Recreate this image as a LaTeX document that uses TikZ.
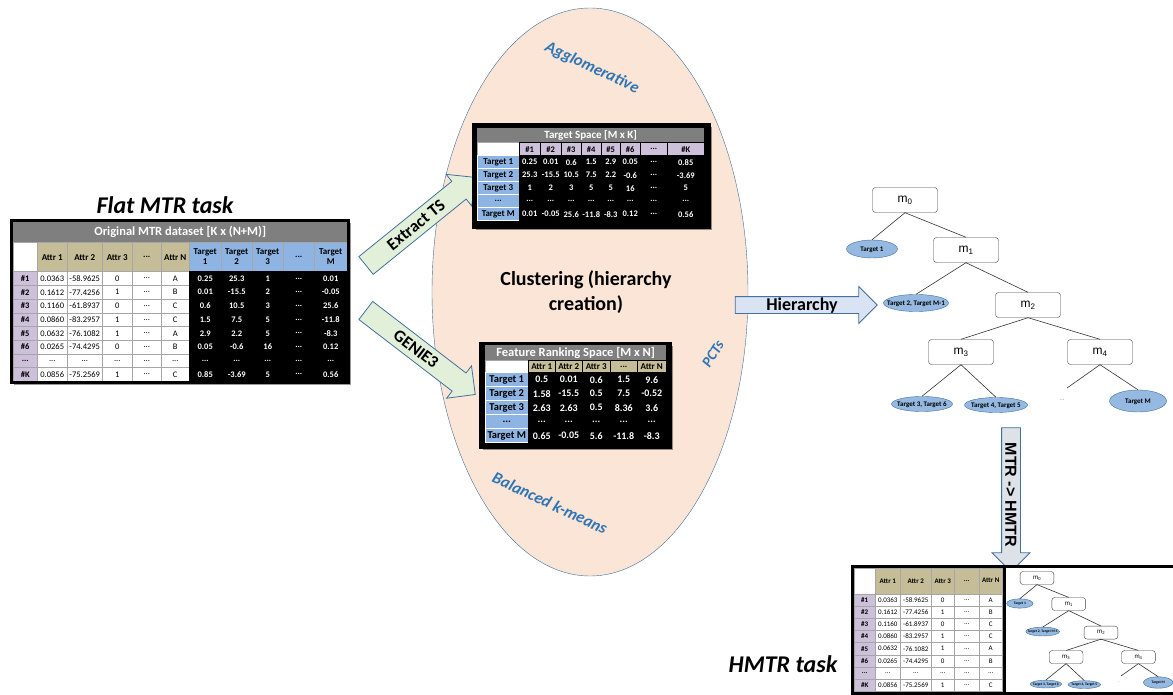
\documentclass[tikz,border=0pt]{standalone}
\usepackage{fontspec}
\setmainfont{Carlito}
\newfontfamily\arialfont{Liberation Sans}
\usepackage{tikz}
\usetikzlibrary{matrix,positioning}
\usetikzlibrary{shapes.geometric,shapes.arrows}
\usetikzlibrary{shadows}
\definecolor{hdrgray}{HTML}{7F7F7F}
\definecolor{attrtan}{HTML}{C4BD97}
\definecolor{rowlav}{HTML}{CCC0DA}
\definecolor{tgtblue}{HTML}{8DB4E2}
\definecolor{gridgray}{HTML}{A6A6A6}
\definecolor{peach}{HTML}{FBE5D6}
\definecolor{arrline}{HTML}{41719C}
\definecolor{algoblue}{HTML}{2E75B6}
\definecolor{arrgreen}{HTML}{E2F0D9}
\definecolor{arrblue}{HTML}{DAE3F3}
\definecolor{arrgray}{HTML}{DDE2E9}
\definecolor{leafblue}{HTML}{95B9E0}
\colorlet{tgttext}{white}
\newcommand\fs[1]{\fontsize{#1}{#1}\selectfont}
\newcommand\mnode[1]{{\arialfont m\textsubscript{#1}}}
\newcommand\lf[1]{\makebox[0pt]{#1}}
\newcommand\tgh[1]{\begin{tabular}{@{}c@{}}Target\\[-1.5pt]#1\end{tabular}}
\tikzset{
  tbl/.style={matrix of nodes,nodes in empty cells,row sep=-.5pt,column sep=-.5pt,
    inner sep=0pt,outer sep=0pt,
    nodes={draw=gridgray,fill=white,inner sep=0pt,outer sep=0pt,anchor=center,line width=.5pt}},
  titlebar/.style={fill=hdrgray,text=white,inner sep=0pt,anchor=north west},
  shadowed/.style={drop shadow={shadow xshift=2.5pt,shadow yshift=-2.5pt,opacity=.4,fill=black}},
  corner/.style={fill=white,draw=gridgray},
  ahd/.style={fill=attrtan,text=black},
  thd/.style={fill=tgtblue,text=black,draw=gridgray},
  tdat/.style={fill=black,draw=black,text=tgttext,font=\fs{8.5}\bfseries},
  mbox/.style={draw=black!75,fill=white,rounded corners=3pt,minimum width=65pt,
    minimum height=25pt,inner sep=0pt,font=\fs{12}},
  leaf/.style={ellipse,draw=arrline,fill=leafblue,inner sep=0pt,text height=4.5pt,
    text depth=0pt,font=\fs{7}\bfseries},
  treeline/.style={draw=black!80,line width=.6pt},
  blockarr/.style={single arrow,draw=arrline,line width=.8pt,inner xsep=2pt,
    inner ysep=0pt,single arrow tip angle=90},
  hiertree/.pic={
    \node[mbox] (-m0) at (0,0) {\mnode0};%%
    \node[mbox] (-m1) at (61,50) {\mnode1};%%
    \node[mbox] (-m2) at (123,105) {\mnode2};%%
    \node[mbox] (-m3) at (56,152) {\mnode3};%%
    \node[mbox] (-m4) at (195,152) {\mnode4};%%
    \node[leaf,minimum width=51pt,minimum height=18pt] (-t1) at (-33,49) {\lf{Target 1}};%%
    \node[leaf,minimum width=65pt,minimum height=17pt] (-t2) at (11,103) {\lf{Target 2, Target M-1}};%%
    \node[leaf,minimum width=61pt,minimum height=15pt] (-t36) at (17,204) {\lf{Target 3, Target 6}};%%
    \node[leaf,minimum width=63pt,minimum height=15pt] (-t45) at (91,205) {\lf{Target 4, Target 5}};%%
    \node[leaf,minimum width=57pt,minimum height=22pt] (-tm) at (233,201) {\lf{Target M}};%%
    \coordinate (-dd) at (162,188);%%
    \node[font=\fs{6},text=black!50,inner sep=0pt] (-dots) at (157,200) {...};%%
    \draw[treeline] (-m0.south) -- (-t1.north);%%
    \draw[treeline] (-m0.south) -- (-m1.north);%%
    \draw[treeline] (-m1.south) -- (-t2.north);%%
    \draw[treeline] (-m1.south) -- (-m2.north);%%
    \draw[treeline] (-m2.south) -- (-m3.north);%%
    \draw[treeline] (-m2.south) -- (-m4.north);%%
    \draw[treeline] (-m3.south) -- (-t36.north);%%
    \draw[treeline] (-m3.south) -- (-t45.north);%%
    \draw[treeline] (-m4.south) -- (-dd);%%
    \draw[treeline] (-m4.south) -- (-tm.north);%%
  }
}
\begin{document}
\begin{tikzpicture}[x=1pt,y=-1pt]%
\useasboundingbox (0,0) rectangle (1173,695);%%
%% clustering step
\node[ellipse,draw=arrline,fill=peach,minimum width=316pt,minimum height=568pt,inner sep=0pt] (clu) at (590,292) {};%%
\begin{scope}
\tikzstyle{every node}=[text=algoblue,font=\fs{16.5}\bfseries\itshape] %%
\node[rotate=-25] (agglo) at (592,68) {Agglomerative};%%
\node[rotate=-25] (kmeans) at (550,503) {Balanced k-means};%%
\node[rotate=58,font=\fs{15}\bfseries\itshape] (pcts) at (713,354) {PCTs};%%
\end{scope}
\node[font=\fontsize{20}{25}\selectfont\bfseries,align=center] (clust) at (586,292) {Clustering (hierarchy\\creation)};%%
%% block arrows
\begin{scope}
\tikzstyle{every node}=[blockarr] %%
\node[fill=arrgreen,rotate=39,minimum height=140pt,single arrow head extend=9pt,
  text height=16.5pt,text depth=5.5pt,font=\fs{17}\bfseries] (extract) at (416,225) {Extract TS};%%
\node[fill=arrgreen,rotate=-37.5,minimum height=138pt,single arrow head extend=9pt,
  text height=16.5pt,text depth=5.5pt,font=\fs{17}\bfseries] (genie) at (416,349) {GENIE3};%%
\node[fill=arrblue,minimum height=142pt,single arrow head extend=10pt,
  text height=13.8pt,text depth=2.2pt,font=\fs{18}\bfseries] (hier) at (802,305) {Hierarchy};%%
\node[fill=arrgray,rotate=-90,minimum height=144pt,single arrow head extend=9.5pt,
  text height=14.75pt,text depth=3.25pt,font=\arialfont\fs{16}\bfseries] (tohmtr) at (1011,495) {MTR -> HMTR};%%
\end{scope}
%% flat MTR dataset
\node[font=\fontsize{24}{28}\selectfont\bfseries\itshape] (flat) at (165,205) {Flat MTR task};%%
\filldraw[fill=white,draw=black,line width=3pt,shadowed] (11.5,220.5) rectangle (348.5,382);%%
\node[titlebar,minimum width=334pt,minimum height=20pt,font=\fs{12.5}\bfseries] (origtitle) at (13,222) {Original MTR dataset [K x (N+M)]};%%
\matrix (orig) [tbl,anchor=north west,
  nodes={minimum height=13.7pt,font=\fs{8.5}},
  column 1/.style={nodes={minimum width=24pt,fill=rowlav,font=\fs{8.5}\bfseries}},
  column 2/.style={nodes={minimum width=30pt}},
  column 3/.style={nodes={minimum width=35pt}},
  column 4/.style={nodes={minimum width=30pt}},
  column 5/.style={nodes={minimum width=29pt}},
  column 6/.style={nodes={minimum width=28pt}},
  column 7/.style={nodes={minimum width=32pt,tdat}},
  column 8/.style={nodes={minimum width=31pt,tdat}},
  column 9/.style={nodes={minimum width=31pt,tdat}},
  column 10/.style={nodes={minimum width=31pt,tdat}},
  column 11/.style={nodes={minimum width=33pt,tdat}},
  row 1/.style={nodes={minimum height=29pt,font=\fontsize{9}{11}\selectfont\bfseries}}]
  at (origtitle.south west) {
|[corner]| & |[ahd]| Attr 1 & |[ahd]| Attr 2 & |[ahd]| Attr 3 & |[ahd]| ... & |[ahd]| Attr N & |[thd]| \tgh{1} & |[thd]| \tgh{2} & |[thd]| \tgh{3} & |[thd]| ... & |[thd]| \tgh{M} \\
\#1 & 0.0363 & -58.9625 & 0 & ... & A & 0.25 & 25.3 & 1 & ... & 0.01 \\
\#2 & 0.1612 & -77.4256 & 1 & ... & B & 0.01 & -15.5 & 2 & ... & -0.05 \\
\#3 & 0.1160 & -61.8937 & 0 & ... & C & 0.6 & 10.5 & 3 & ... & 25.6 \\
\#4 & 0.0860 & -83.2957 & 1 & ... & C & 1.5 & 7.5 & 5 & ... & -11.8 \\
\#5 & 0.0632 & -76.1082 & 1 & ... & A & 2.9 & 2.2 & 5 & ... & -8.3 \\
\#6 & 0.0265 & -74.4295 & 0 & ... & B & 0.05 & -0.6 & 16 & ... & 0.12 \\
... & ... & ... & ... & ... & ... & ... & ... & ... & ... & ... \\
\#K & 0.0856 & -75.2569 & 1 & ... & C & 0.85 & -3.69 & 5 & ... & 0.56 \\
};
\draw[line width=3pt] (11.5,220.5) rectangle (348.5,382);%%
%% target space
\filldraw[fill=black,draw=black,line width=3pt,shadowed] (473,125) rectangle (709,228);%%
\node[titlebar,minimum width=227pt,minimum height=14pt,font=\fs{11}\bfseries] (tstitle) at (477,128) {Target Space [M x K]};%%
\matrix (tspace) [tbl,anchor=north west,
  nodes={minimum height=13pt,tdat},
  column 1/.style={nodes={minimum width=42pt,fill=tgtblue,text=black,draw=white,font=\fs{9}\bfseries}},
  column 2/.style={nodes={minimum width=21pt}},
  column 3/.style={nodes={minimum width=21pt}},
  column 4/.style={nodes={minimum width=20pt}},
  column 5/.style={nodes={minimum width=20pt}},
  column 6/.style={nodes={minimum width=19pt}},
  column 7/.style={nodes={minimum width=20pt}},
  column 8/.style={nodes={minimum width=27pt}},
  column 9/.style={nodes={minimum width=37pt}},
  row 1/.style={nodes={fill=rowlav,text=black,draw=black,font=\fs{8.5}\bfseries}}]
  at (tstitle.south west) {
|[corner]| & \#1 & \#2 & \#3 & \#4 & \#5 & \#6 & ... & \#K \\
Target 1 & 0.25 & 0.01 & 0.6 & 1.5 & 2.9 & 0.05 & ... & 0.85 \\
Target 2 & 25.3 & -15.5 & 10.5 & 7.5 & 2.2 & -0.6 & ... & -3.69 \\
Target 3 & 1 & 2 & 3 & 5 & 5 & 16 & ... & 5 \\
... & ... & ... & ... & ... & ... & ... & ... & ... \\
Target M & 0.01 & -0.05 & 25.6 & -11.8 & -8.3 & 0.12 & ... & 0.56 \\
};
%% feature ranking space
\filldraw[fill=black,draw=black,line width=3pt,shadowed] (480,343) rectangle (670,447);%%
\node[titlebar,minimum width=181pt,minimum height=15pt,font=\fs{12.5}\bfseries] (frtitle) at (485,345) {Feature Ranking Space [M x N]};%%
\matrix (frank) [tbl,anchor=north west,
  nodes={minimum height=14pt,tdat,font=\fs{10}\bfseries},
  column 1/.style={nodes={minimum width=43pt,fill=tgtblue,text=black,draw=white,font=\fs{10.5}\bfseries}},
  column 2/.style={nodes={minimum width=27pt}},
  column 3/.style={nodes={minimum width=27pt}},
  column 4/.style={nodes={minimum width=28pt}},
  column 5/.style={nodes={minimum width=27pt}},
  column 6/.style={nodes={minimum width=29pt}},
  row 1/.style={nodes={minimum height=12pt,fill=attrtan,text=black,draw=black,font=\fs{9}\bfseries}}]
  at (frtitle.south west) {
|[corner]| & Attr 1 & Attr 2 & Attr 3 & ... & Attr N \\
Target 1 & 0.5 & 0.01 & 0.6 & 1.5 & 9.6 \\
Target 2 & 1.58 & -15.5 & 0.5 & 7.5 & -0.52 \\
Target 3 & 2.63 & 2.63 & 0.5 & 8.36 & 3.6 \\
... & ... & ... & ... & ... & ... \\
Target M & 0.65 & -0.05 & 5.6 & -11.8 & -8.3 \\
};
%% hierarchy
\pic (big) at (905,200) {hiertree};%%
%% HMTR task
\node[font=\fontsize{24}{28}\selectfont\bfseries\itshape] (hmtrlab) at (783,664) {HMTR task};%%
\filldraw[fill=white,draw=black,line width=3pt] (852.5,566) rectangle (1185,693);%%
\matrix (hmtr) [tbl,anchor=north west,
  nodes={minimum height=12.2pt,font=\fs{7}},
  column 1/.style={nodes={minimum width=21pt,fill=rowlav,font=\fs{7}\bfseries}},
  column 2/.style={nodes={minimum width=25pt}},
  column 3/.style={nodes={minimum width=31pt}},
  column 4/.style={nodes={minimum width=23pt}},
  column 5/.style={nodes={minimum width=25pt}},
  column 6/.style={nodes={minimum width=23pt}},
  row 1/.style={nodes={minimum height=26pt,font=\fs{7}\bfseries}}]
  at (854,567.5) {
|[corner]| & |[ahd]| Attr 1 & |[ahd]| Attr 2 & |[ahd]| Attr 3 & |[ahd]| ... & |[ahd]| Attr N \\
\#1 & 0.0363 & -58.9625 & 0 & ... & A \\
\#2 & 0.1612 & -77.4256 & 1 & ... & B \\
\#3 & 0.1160 & -61.8937 & 0 & ... & C \\
\#4 & 0.0860 & -83.2957 & 1 & ... & C \\
\#5 & 0.0632 & -76.1082 & 1 & ... & A \\
\#6 & 0.0265 & -74.4295 & 0 & ... & B \\
... & ... & ... & ... & ... & ... \\
\#K & 0.0856 & -75.2569 & 1 & ... & C \\
};
\draw[line width=3pt] (852.5,566) rectangle (1185,693);%%
\draw[line width=3pt] (1004,566) -- (1004,693);%%
\pic[scale=.52,transform shape] (small) at (1037,578) {hiertree};%%
\end{tikzpicture}
\end{document}
